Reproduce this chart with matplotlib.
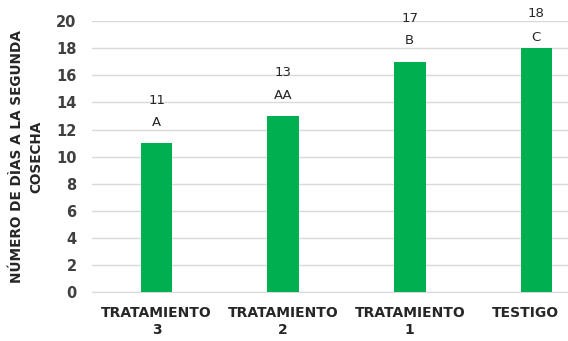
import matplotlib
matplotlib.use("Agg")
import matplotlib.pyplot as plt
import matplotlib.transforms as mtransforms

categories = ["TRATAMIENTO\n3", "TRATAMIENTO\n2", "TRATAMIENTO\n1", "TESTIGO"]
values = [11, 13, 17, 18]
letters = ["A", "AA", "B", "C"]
yticks = [0, 2, 4, 6, 8, 10, 12, 14, 16, 18, 20]

plt.rcParams["font.family"] = ["DejaVu Sans"]

fig = plt.figure(figsize=(5.68, 3.41), dpi=100)
ax = fig.add_axes([0.162, 0.143, 0.838, 0.795])

x = range(len(categories))
ax.bar(x, values, width=0.25, color="#00B050", zorder=3)

# label offsets in points (the last one sits tighter near the top)
letter_off = [15, 15, 15, 8]
num_off = [31, 31, 31, 25]
for xi, v, let, lo, no in zip(x, values, letters, letter_off, num_off):
    ax.annotate(let, (xi, v), xytext=(0, lo), textcoords="offset points",
                ha="center", va="center", fontsize=9.5, color="#262626",
                annotation_clip=False)
    ax.annotate(str(v), (xi, v), xytext=(0, no), textcoords="offset points",
                ha="center", va="center", fontsize=9.5, color="#262626",
                annotation_clip=False)

ax.set_ylim(0, 20)
ax.set_xlim(-0.51, 3.25)
ax.set_yticks(yticks)
ax.set_yticklabels([str(t) for t in yticks], fontsize=10.5, fontweight="bold", color="#404040")
ax.set_xticks(list(x))
ax.set_xticklabels(categories, fontsize=10, fontweight="bold", color="#262626",
                   linespacing=1.3)
ax.tick_params(axis="both", length=0)
ax.tick_params(axis="x", pad=10)
ax.tick_params(axis="y", pad=11)

# nudge the last label left so it stays inside the figure
last = ax.get_xticklabels()[-1]
last.set_transform(last.get_transform() +
                   mtransforms.ScaledTranslation(-8 / 72, 0, fig.dpi_scale_trans))

ax.grid(axis="y", color="#d9d9d9", linewidth=1.0, zorder=0)
for s in ["top", "right", "left"]:
    ax.spines[s].set_visible(False)
ax.spines["bottom"].set_color("#d9d9d9")

ax.set_ylabel("NÚMERO DE DÌAS A LA SEGUNDA\nCOSECHA", fontsize=9.8, fontweight="bold",
              color="#262626", linespacing=1.5, labelpad=9)

fig.savefig("out.png", dpi=100)
